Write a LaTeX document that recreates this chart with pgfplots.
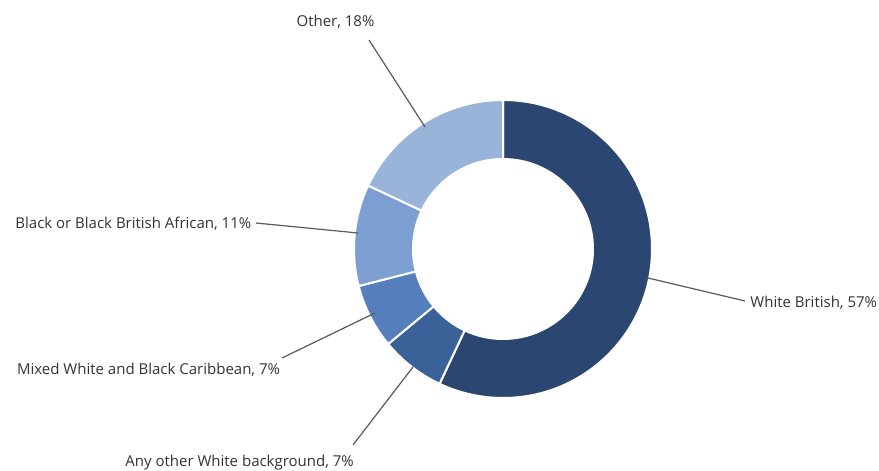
\documentclass[border=0pt]{standalone}
\usepackage{pgfplots}
\pgfplotsset{compat=1.18}
\usepackage{pgfplotstable}
\usepackage{fontspec}
\setmainfont{Open Sans}
\definecolor{cWB}{RGB}{43,70,112}
\definecolor{cAW}{RGB}{58,97,152}
\definecolor{cMX}{RGB}{84,127,188}
\definecolor{cBA}{RGB}{124,158,208}
\definecolor{cOT}{RGB}{153,180,216}
\definecolor{ltxt}{RGB}{51,51,51}
\definecolor{lline}{RGB}{90,90,90}
% share in percent, clockwise from 12 o'clock
\pgfplotstableread{
cat value
WB 57
AW 7
MX 7
BA 11
OT 18
}\ethnicity
\begin{document}
\begin{tikzpicture}
\begin{axis}[
  x=0.5pt, y=0.5pt,
  xmin=0, xmax=879, ymin=0, ymax=471,
  hide axis, clip=false, scale only axis,
]
\path (axis cs:0,0) rectangle (axis cs:879,471);
\def\cum{0}
\pgfplotstablegetrowsof{\ethnicity}
\pgfmathtruncatemacro\nrows{\pgfplotsretval-1}
\pgfplotsforeachungrouped \i in {0,...,\nrows}{%
  \pgfplotstablegetelem{\i}{value}\of{\ethnicity}\let\v\pgfplotsretval
  \pgfplotstablegetelem{\i}{cat}\of{\ethnicity}\let\c\pgfplotsretval
  \pgfmathsetmacro\a{90-3.6*\cum}%
  \pgfmathsetmacro\b{90-3.6*(\cum+\v)}%
  \edef\tmp{\noexpand\fill[c\c, draw=white, line width=1pt, line join=round]
    (axis cs:503,222) -- ++(\a:74.5pt) arc[start angle=\a, end angle=\b, radius=74.5pt] -- cycle;}%
  \tmp
  \pgfmathsetmacro\cum{\cum+\v}\global\let\cum\cum
}
\fill[white] (axis cs:503,222) circle[radius=45.5pt];
% leader lines
\draw[lline, line width=0.6pt] (axis cs:369,431) -- (axis cs:425,344);
\draw[lline, line width=0.6pt] (axis cs:256,248) -- (axis cs:358,238);
\draw[lline, line width=0.6pt] (axis cs:282,113) -- (axis cs:375,158);
\draw[lline, line width=0.6pt] (axis cs:353,26) -- (axis cs:413,104);
\draw[lline, line width=0.6pt] (axis cs:648,193) -- (axis cs:745,170);
% labels
\begin{scope}[every node/.style={font=\fontsize{7.5}{9}\selectfont, text=ltxt, inner sep=0pt}]
\node[anchor=center] at (axis cs:335.5,449.3) {Other, 18\%};
\node[anchor=west] at (axis cs:15,247) {Black or Black British African, 11\%};
\node[anchor=west] at (axis cs:16.7,101) {Mixed White and Black Caribbean, 7\%};
\node[anchor=west] at (axis cs:125,8) {Any other White background, 7\%};
\node[anchor=west] at (axis cs:750,168) {White British, 57\%};
\end{scope}
\end{axis}
\end{tikzpicture}
\end{document}
